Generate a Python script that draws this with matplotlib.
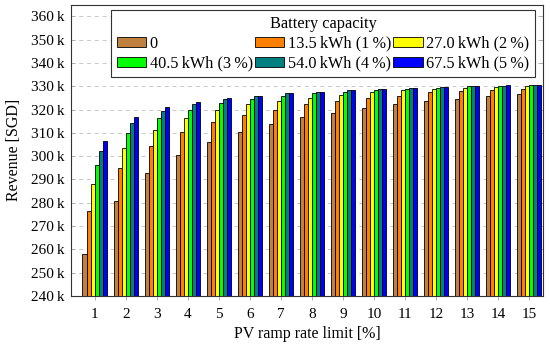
import numpy as np
import matplotlib.pyplot as plt
from matplotlib.ticker import FuncFormatter

plt.rcParams['font.family'] = ['Liberation Serif', 'DejaVu Serif']
plt.rcParams['font.size'] = 11

# PV ramp rate limit [%]
ramp = np.arange(1, 16)

# revenue in thousands SGD, one list per battery size
rev_0 = [257.9, 280.9, 292.7, 300.6, 306.1, 310.4, 313.6, 316.6, 318.7, 320.6, 322.2, 323.6, 324.7, 325.6, 326.6]
rev_135 = [276.6, 294.9, 304.3, 310.2, 314.6, 317.6, 320.0, 322.2, 323.7, 325.0, 326.0, 327.7, 327.9, 328.6, 329.0]
rev_270 = [288.1, 303.7, 311.4, 316.3, 319.7, 322.2, 323.7, 325.1, 326.4, 327.4, 328.2, 328.9, 329.3, 329.7, 330.3]
rev_405 = [296.1, 309.9, 316.3, 320.0, 322.6, 324.6, 325.9, 326.9, 327.7, 328.4, 329.0, 329.4, 329.9, 330.1, 330.6]
rev_540 = [302.3, 314.1, 319.3, 322.3, 324.4, 325.6, 326.9, 327.4, 328.2, 328.9, 329.3, 329.7, 330.0, 330.3, 330.7]
rev_675 = [306.6, 316.8, 320.9, 323.1, 325.0, 326.0, 327.0, 327.6, 328.4, 329.0, 329.4, 329.7, 330.0, 330.4, 330.7]

labels = ['0', '13.5\u2009kWh (1\u2009%)', '27.0\u2009kWh (2\u2009%)',
          '40.5\u2009kWh (3\u2009%)', '54.0\u2009kWh (4\u2009%)', '67.5\u2009kWh (5\u2009%)']
colors = ['#BF8040', '#FF8000', '#FFFF00', '#00FF00', '#008080', '#0000FF']
series = [rev_0, rev_135, rev_270, rev_405, rev_540, rev_675]

fig = plt.figure(figsize=(5.5, 3.51), dpi=100)
ax = fig.add_axes([0.1285, 0.1567, 0.8593, 0.83])

w = 0.133
handles = []
for i, (vals, c, lab) in enumerate(zip(series, colors, labels)):
    b = ax.bar(ramp + (i - 2.5) * w, np.array(vals) * 1000, width=w, color=c,
               edgecolor='black', linewidth=0.6, label=lab, zorder=3)
    handles.append(b)

ax.set_ylim(240000, 365000)
ax.set_yticks(np.arange(240000, 360001, 10000))
ax.yaxis.set_major_formatter(FuncFormatter(lambda v, p: '%d\u2009k' % round(v / 1000)))
ax.set_xlim(0.22, 15.46)
ax.set_xticks(ramp)

ax.grid(axis='y', color='#c8c8c8', linestyle=(0, (4, 4)), linewidth=0.7, zorder=0)
ax.tick_params(axis='both', color='#b0b0b0', length=3, width=0.7, labelsize=11)
ax.tick_params(axis='x', pad=6)
ax.tick_params(axis='y', direction='in', right=True, pad=4)
for s in ax.spines.values():
    s.set_color('#333333')
    s.set_linewidth(0.8)

ax.set_xlabel('PV ramp rate limit [%]', fontsize=11.5, labelpad=3)
ax.set_ylabel('Revenue [SGD]', fontsize=11.5, labelpad=7)

order = [0, 3, 1, 4, 2, 5]
leg = ax.legend([handles[k] for k in order], [labels[k] for k in order], ncol=3,
                title='Battery capacity', loc='upper right', bbox_to_anchor=(0.982, 0.982),
                borderaxespad=0, fancybox=False, edgecolor='#333333', framealpha=1,
                handlelength=1.8, handleheight=0.6, handletextpad=0.2,
                columnspacing=0.15, labelspacing=0.25, borderpad=0.35, fontsize=11.7,
                title_fontsize=11.7)
leg.get_frame().set_linewidth(0.8)

fig.savefig('out.png', dpi=100)
